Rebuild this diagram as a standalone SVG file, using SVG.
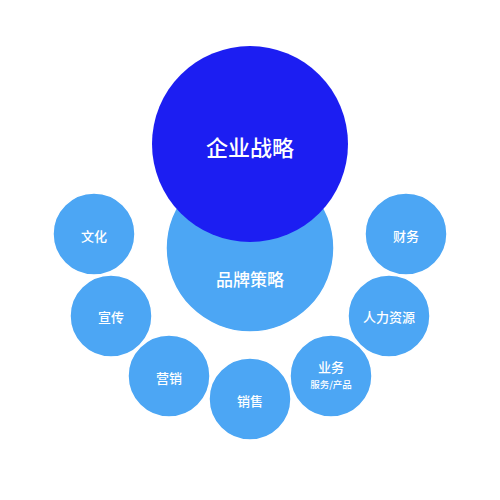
<svg xmlns="http://www.w3.org/2000/svg" width="500" height="500" viewBox="0 0 500 500">
<style>
.light{fill:#4ca6f4;stroke:#ffffff;stroke-width:1.5}
.dark{fill:#1c1ef2}
text{font-family:"Noto Sans CJK SC","Noto Sans",sans-serif;fill:#ffffff;text-anchor:middle;dominant-baseline:central;font-weight:500}
.s{font-size:13px}
.xs{font-size:9.5px}
</style>
<rect width="500" height="500" fill="#ffffff"/>
<g id="connectors"></g>
<g id="brand"><circle class="light" cx="250" cy="248" r="84"/><text x="250" y="278" font-size="17">品牌策略</text></g>
<g id="corp"><circle class="dark" cx="250" cy="144" r="98"/><text x="250" y="146" font-size="22">企业战略</text></g>
<g id="culture"><circle class="light" cx="94" cy="234" r="41"/><text class="s" x="94" y="235">文化</text></g>
<g id="publicity"><circle class="light" cx="111" cy="316" r="41"/><text class="s" x="111" y="316">宣传</text></g>
<g id="marketing"><circle class="light" cx="169" cy="376" r="41"/><text class="s" x="169" y="377">营销</text></g>
<g id="sales"><circle class="light" cx="250" cy="399" r="41"/><text class="s" x="250" y="400">销售</text></g>
<g id="business"><circle class="light" cx="331" cy="376" r="41"/><text class="s" x="331" y="366">业务</text><text class="xs" x="331" y="384">服务/产品</text></g>
<g id="hr"><circle class="light" cx="389" cy="316" r="41"/><text class="s" x="389" y="316">人力资源</text></g>
<g id="finance"><circle class="light" cx="406" cy="234" r="41"/><text class="s" x="406" y="235">财务</text></g>
</svg>
